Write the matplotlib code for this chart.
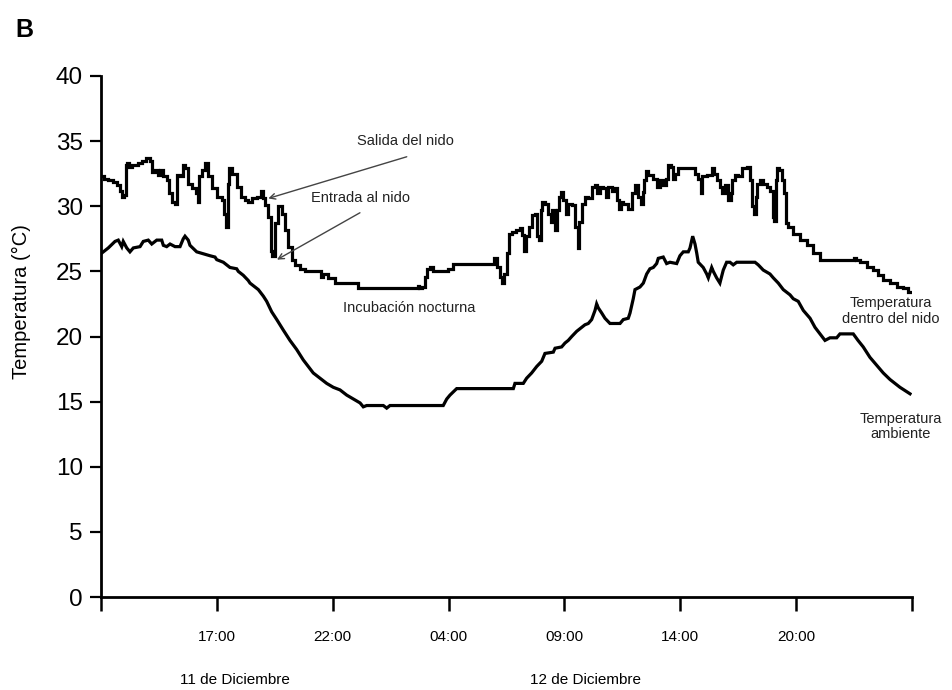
import matplotlib
matplotlib.use("Agg")
import matplotlib.pyplot as plt
from matplotlib import font_manager

# x: position along the time axis in tick intervals (ticks are equally spaced)
nest_x = [0.01, 0.049, 0.078, 0.121, 0.149, 0.179, 0.192, 0.207, 0.216, 0.236, 0.250, 0.279, 0.308, 0.337,
          0.365, 0.408, 0.438, 0.451, 0.481, 0.495, 0.524, 0.552, 0.581, 0.596, 0.624, 0.653, 0.667, 0.697,
          0.710, 0.740, 0.768, 0.811, 0.826, 0.840, 0.854, 0.883, 0.912, 0.941, 0.969, 1.027, 1.056, 1.070,
          1.085, 1.099, 1.113, 1.157, 1.185, 1.228, 1.258, 1.286, 1.315, 1.372, 1.387, 1.401, 1.430, 1.459,
          1.473, 1.487, 1.517, 1.545, 1.573, 1.603, 1.631, 1.660, 1.689, 1.746, 1.778, 1.890, 1.905, 1.919,
          2.005, 2.034, 2.207, 2.221, 2.725, 2.739, 2.753, 2.782, 2.811, 2.825, 2.854, 2.883, 2.984, 3.012,
          3.070, 3.386, 3.401, 3.429, 3.458, 3.472, 3.487, 3.515, 3.530, 3.559, 3.602, 3.631, 3.645, 3.660,
          3.674, 3.717, 3.731, 3.761, 3.774, 3.789, 3.804, 3.817, 3.847, 3.875, 3.890, 3.904, 3.933, 3.947,
          3.962, 3.976, 4.005, 4.020, 4.048, 4.077, 4.106, 4.120, 4.134, 4.163, 4.192, 4.221, 4.249, 4.278,
          4.292, 4.322, 4.350, 4.365, 4.393, 4.422, 4.451, 4.465, 4.480, 4.494, 4.523, 4.566, 4.594, 4.624,
          4.652, 4.667, 4.681, 4.695, 4.710, 4.738, 4.796, 4.810, 4.839, 4.868, 4.882, 4.911, 4.926, 4.940,
          4.969, 4.997, 5.112, 5.142, 5.170, 5.185, 5.198, 5.256, 5.285, 5.300, 5.328, 5.357, 5.371, 5.400,
          5.429, 5.444, 5.457, 5.487, 5.515, 5.558, 5.587, 5.616, 5.630, 5.645, 5.659, 5.673, 5.703, 5.731,
          5.760, 5.789, 5.803, 5.817, 5.832, 5.846, 5.860, 5.889, 5.904, 5.918, 5.947, 6.005, 6.062, 6.120,
          6.177, 6.234, 6.493, 6.508, 6.522, 6.579, 6.637, 6.695, 6.723, 6.781, 6.838, 6.896, 6.954, 6.983]
nest_temp = [32.3, 32.1, 32.0, 31.9, 31.6, 31.2, 30.7, 30.9, 33.2, 33.3, 33.0, 33.2, 33.2, 33.3,
             33.5, 33.7, 33.5, 32.6, 32.8, 32.4, 32.8, 32.3, 32.0, 31.0, 30.3, 30.2, 32.4, 32.3,
             33.2, 32.9, 31.7, 31.4, 31.0, 30.3, 32.3, 32.8, 33.3, 32.3, 31.4, 30.7, 30.5, 29.4,
             28.4, 31.7, 32.9, 32.5, 31.5, 30.7, 30.5, 30.3, 30.6, 30.7, 31.2, 30.6, 30.1, 29.2,
             26.6, 26.2, 28.7, 30.0, 29.4, 28.2, 26.9, 25.9, 25.5, 25.2, 25.0, 25.0, 24.6, 24.8,
             24.5, 24.1, 24.1, 23.7, 23.7, 23.9, 23.7, 23.8, 24.6, 25.2, 25.3, 25.0, 25.0, 25.2,
             25.6, 25.6, 26.0, 25.3, 24.6, 24.1, 24.8, 26.4, 27.9, 28.0, 28.2, 28.3, 27.8, 26.6,
             27.7, 28.4, 29.3, 29.4, 27.7, 27.4, 29.7, 30.3, 30.2, 29.4, 28.8, 29.7, 28.2, 29.7,
             30.7, 31.1, 30.5, 29.4, 30.2, 30.1, 28.4, 26.8, 28.8, 30.2, 30.7, 30.6, 31.5, 31.6,
             31.0, 31.5, 31.4, 30.7, 31.5, 31.2, 31.4, 30.5, 29.8, 30.3, 30.2, 29.8, 31.0, 31.6,
             30.7, 30.2, 31.1, 32.0, 32.7, 32.4, 32.1, 31.5, 32.0, 31.6, 32.1, 33.2, 33.0, 32.1,
             32.5, 32.9, 32.9, 32.5, 32.1, 31.0, 32.3, 32.4, 32.9, 32.5, 32.0, 31.5, 31.0, 31.6,
             30.5, 31.0, 32.0, 32.4, 32.3, 32.9, 33.0, 32.0, 30.0, 29.4, 30.7, 31.7, 32.0, 31.7,
             31.5, 31.2, 29.2, 28.9, 32.0, 32.9, 32.8, 32.0, 31.0, 28.7, 28.4, 27.9, 27.4, 27.0,
             26.4, 25.9, 25.9, 26.0, 25.9, 25.7, 25.3, 25.1, 24.7, 24.3, 24.1, 23.8, 23.7, 23.4]

amb_x = [0.006, 0.063, 0.121, 0.149, 0.179, 0.192, 0.222, 0.250, 0.279, 0.337, 0.365, 0.408, 0.438, 0.481,
         0.524, 0.538, 0.567, 0.596, 0.639, 0.682, 0.710, 0.725, 0.753, 0.768, 0.826, 0.941, 0.984, 0.999,
         1.056, 1.085, 1.113, 1.171, 1.185, 1.228, 1.271, 1.286, 1.329, 1.358, 1.401, 1.430, 1.473, 1.517,
         1.573, 1.631, 1.689, 1.746, 1.789, 1.832, 1.890, 1.948, 2.005, 2.063, 2.121, 2.178, 2.236, 2.264,
         2.293, 2.437, 2.466, 2.494, 2.954, 2.984, 3.012, 3.070, 3.559, 3.573, 3.645, 3.674, 3.717, 3.761,
         3.804, 3.832, 3.904, 3.919, 3.976, 4.005, 4.033, 4.063, 4.106, 4.134, 4.177, 4.206, 4.235, 4.264,
         4.278, 4.292, 4.322, 4.350, 4.393, 4.480, 4.508, 4.551, 4.566, 4.594, 4.609, 4.652, 4.681, 4.710,
         4.738, 4.767, 4.796, 4.810, 4.853, 4.882, 4.911, 4.969, 4.997, 5.026, 5.069, 5.084, 5.107, 5.127,
         5.142, 5.155, 5.198, 5.228, 5.242, 5.271, 5.285, 5.314, 5.342, 5.371, 5.400, 5.429, 5.457, 5.487,
         5.645, 5.673, 5.716, 5.774, 5.803, 5.846, 5.889, 5.947, 5.975, 6.018, 6.062, 6.120, 6.163, 6.206,
         6.249, 6.292, 6.350, 6.378, 6.493, 6.534, 6.579, 6.637, 6.695, 6.752, 6.810, 6.896, 6.983]
amb_temp = [26.4, 26.8, 27.3, 27.4, 26.9, 27.3, 26.8, 26.5, 26.8, 26.9, 27.3, 27.4, 27.1, 27.4,
            27.4, 27.0, 26.9, 27.1, 26.9, 26.9, 27.5, 27.7, 27.4, 27.0, 26.5, 26.2, 26.1, 25.9,
            25.7, 25.5, 25.3, 25.2, 25.0, 24.7, 24.3, 24.1, 23.8, 23.6, 23.1, 22.7, 21.9, 21.3,
            20.5, 19.7, 19.0, 18.2, 17.7, 17.2, 16.8, 16.4, 16.1, 15.9, 15.5, 15.2, 14.9, 14.6,
            14.7, 14.7, 14.5, 14.7, 14.7, 15.2, 15.5, 16.0, 16.0, 16.4, 16.4, 16.8, 17.2, 17.7,
            18.1, 18.7, 18.8, 19.1, 19.2, 19.5, 19.7, 20.0, 20.4, 20.6, 20.9, 21.0, 21.3, 22.0,
            22.5, 22.2, 21.8, 21.4, 21.0, 21.0, 21.3, 21.4, 21.8, 22.9, 23.6, 23.8, 24.1, 24.8,
            25.2, 25.3, 25.6, 26.0, 26.1, 25.6, 25.7, 25.6, 26.2, 26.5, 26.5, 26.8, 27.7, 27.1,
            26.4, 25.7, 25.3, 24.8, 24.5, 25.3, 25.0, 24.5, 24.1, 25.1, 25.7, 25.7, 25.5, 25.7,
            25.7, 25.5, 25.1, 24.8, 24.5, 24.1, 23.6, 23.2, 22.9, 22.7, 22.0, 21.4, 20.7, 20.2,
            19.7, 19.9, 19.9, 20.2, 20.2, 19.7, 19.2, 18.4, 17.8, 17.2, 16.7, 16.1, 15.6]

tick_pos = [0, 1, 2, 3, 4, 5, 6, 7]
tick_labels = ["", "17:00", "22:00", "04:00", "09:00", "14:00", "20:00", ""]
y_ticks = [0, 5, 10, 15, 20, 25, 30, 35, 40]
date_labels = ["11 de Diciembre", "12 de Diciembre"]

names = {f.name for f in font_manager.fontManager.ttflist}
narrow = "Liberation Sans Narrow" if "Liberation Sans Narrow" in names else "Liberation Sans"
narrow_size = 12.5 if narrow == "Liberation Sans Narrow" else 11

plt.rcParams["font.family"] = ["Liberation Sans", "DejaVu Sans"]

fig = plt.figure(figsize=(9.52, 6.9), dpi=100)
ax = fig.add_axes([101 / 952, 1 - 597 / 690, 811 / 952, 521 / 690])

ax.plot(nest_x, nest_temp, color="black", lw=2.3, drawstyle="steps-mid", solid_joinstyle="miter")
ax.plot(amb_x, amb_temp, color="black", lw=2.3, solid_joinstyle="miter")

ax.set_xlim(0, 7)
ax.set_ylim(0, 40)
for s in ["top", "right"]:
    ax.spines[s].set_visible(False)
for s in ["left", "bottom"]:
    ax.spines[s].set_linewidth(2.0)

ax.set_yticks(y_ticks)
ax.tick_params(axis="y", direction="out", length=8, width=1.6, labelsize=17.5, pad=5)
ax.set_xticks(tick_pos)
ax.set_xticklabels(tick_labels, family=[narrow, "DejaVu Sans"], fontsize=narrow_size)
ax.tick_params(axis="x", direction="out", length=10, width=1.8, pad=14)

fig.text(0.023, 1 - 302 / 690, "Temperatura (°C)", rotation=90, ha="center", va="center", fontsize=14.5)
fig.text(15 / 952, 1 - 30 / 690, "B", ha="left", va="center", fontsize=18, fontweight="bold")

fig.text(235 / 952, 1 - 680 / 690, date_labels[0], ha="center", va="center",
         family=[narrow, "DejaVu Sans"], fontsize=narrow_size)
fig.text(585 / 952, 1 - 680 / 690, date_labels[1], ha="center", va="center",
         family=[narrow, "DejaVu Sans"], fontsize=narrow_size)

arrow = dict(arrowstyle="->", color="#444444", lw=1.0, shrinkA=0, shrinkB=0)
ax.annotate("", xy=(1.444, 30.6), xytext=(2.639, 33.8), arrowprops=arrow)
ax.annotate("", xy=(1.519, 25.9), xytext=(2.235, 29.5), arrowprops=arrow)

ann = dict(ha="center", va="center", fontsize=10.5, color="#222222")
ax.text(2.624, 35.0, "Salida del nido", **ann)
ax.text(2.244, 30.6, "Entrada al nido", **ann)
ax.text(2.658, 22.2, "Incubación nocturna", **ann)
ax.text(6.819, 21.95, "Temperatura\ndentro del nido", linespacing=1.15, **ann)
ax.text(6.905, 13.1, "Temperatura\nambiente", linespacing=1.15, **ann)

fig.savefig("out.png", dpi=100)
